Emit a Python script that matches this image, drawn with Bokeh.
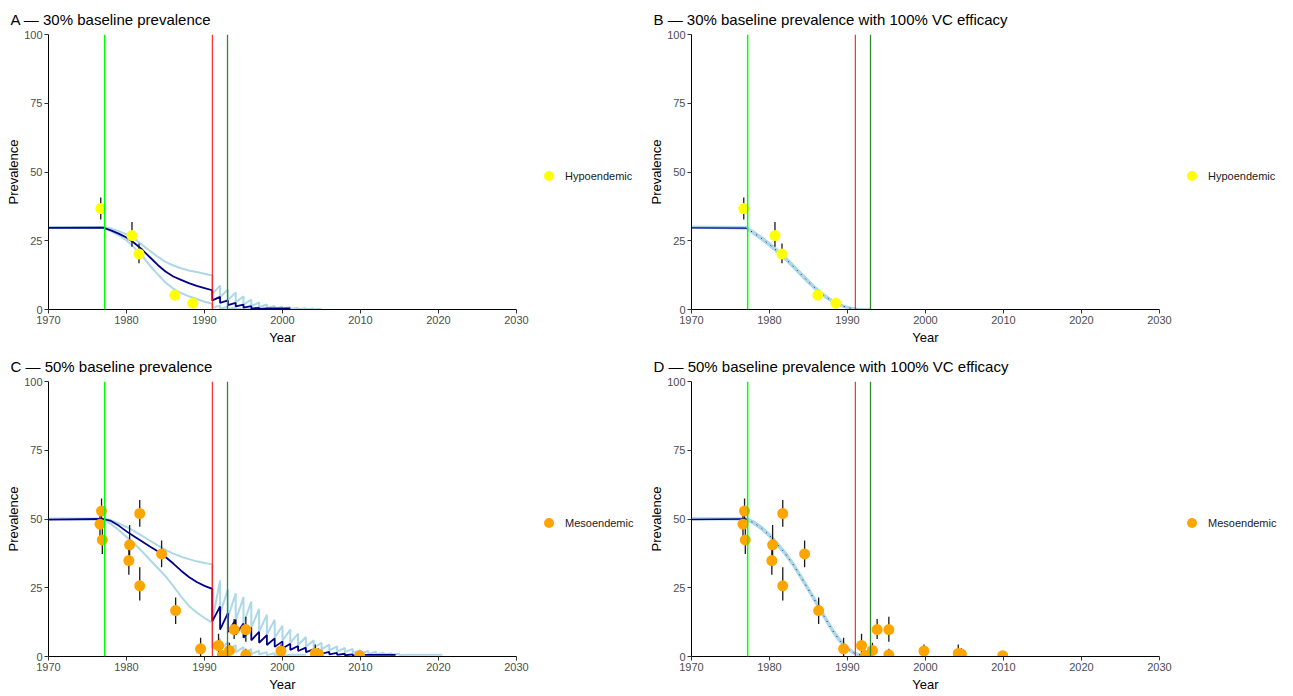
from bokeh.plotting import figure
from bokeh.models import Range1d, Span, Legend, LegendItem, FixedTicker
from bokeh.layouts import column, row
from bokeh.embed import file_html
from bokeh.resources import INLINE

FONT = "Liberation Sans"

# ---------------- data ----------------
smooth_years = [1970, 1977, 1978, 1979, 1980, 1981, 1982, 1983, 1984, 1985,
                1986, 1987, 1988, 1989, 1990, 1991]
mda_start = 1991  # first treatment year of the sawtooth phase

# Panel A: 30% baseline
A_med = [29.7, 29.8, 28.8, 27.6, 26.2, 24.2, 21.8, 19.0, 16.2, 13.8, 12.0, 10.8, 9.6, 8.6, 7.8, 7.0]
A_up = [30.0, 30.0, 29.5, 28.5, 27.3, 25.8, 23.5, 21.3, 19.2, 17.3, 16.0, 15.0, 14.2, 13.6, 13.0, 12.4]
A_lo = [29.8, 29.8, 28.5, 27.0, 25.2, 22.5, 19.5, 16.0, 12.8, 9.8, 7.6, 6.0, 4.8, 3.8, 2.8, 2.1]
A_med_tr = [3.3, 2.4, 1.6, 1.1, 0.7, 0.4, 0.2]
A_med_pk = [4.6, 3.3, 2.4, 1.8, 1.2, 0.6, 0.4]
A_up_tr = [5.7, 4.5, 3.4, 2.6, 1.8, 1.2, 0.8, 0.5, 0.3, 0.2, 0.1, 0.1, 0.1, 0.0]
A_up_pk = [8.7, 7.3, 6.2, 4.8, 3.6, 2.6, 1.8, 1.3, 1.0, 0.8, 0.6, 0.5, 0.4, 0.3]
A_lo_tr = [0.6, 0.3, 0.2, 0.1, 0.0]
A_lo_pk = [1.5, 1.0, 0.7, 0.4, 0.2]
A_tail_end = {"med": 2001.0, "up": 2005.0, "lo": 1997.0}

# Panel C: 50% baseline
C_med = [49.8, 50.0, 49.3, 47.6, 45.5, 43.6, 41.8, 40.0, 38.3, 36.2, 33.8, 31.2, 28.9, 27.1, 25.7, 24.6]
C_up = [50.2, 50.2, 49.6, 48.4, 47.1, 45.6, 43.9, 42.1, 40.4, 38.8, 37.4, 36.3, 35.4, 34.6, 34.0, 33.5]
C_lo = [50.0, 49.8, 48.2, 46.0, 43.5, 41.0, 38.2, 35.2, 32.2, 29.2, 25.6, 21.8, 18.4, 16.0, 14.0, 12.2]
C_med_tr = [12.8, 9.8, 8.9, 7.9, 6.8, 5.9, 5.0, 4.2, 3.5, 2.9, 2.4, 2.0, 1.6, 1.3, 1.0, 0.8, 0.6, 0.45, 0.35]
C_med_pk = [18.2, 15.8, 13.4, 12.0, 10.5, 9.0, 7.8, 6.6, 5.5, 4.6, 3.8, 3.2, 2.6, 2.1, 1.7, 1.3, 1.0, 0.8, 0.6]
C_up_tr = [13.0, 15.5, 14.0, 13.0, 12.0, 10.5, 9.0, 8.0, 6.8, 5.8, 5.0, 4.2, 3.6, 3.0, 2.6, 2.2,
           1.8, 1.6, 1.3, 1.1, 0.9, 0.8, 0.7, 0.6, 0.5]
C_up_pk = [27.7, 24.5, 23.0, 21.6, 20.0, 17.3, 15.2, 13.4, 11.2, 9.8, 8.3, 7.1, 5.9, 5.0, 4.3, 3.7,
           3.1, 2.8, 2.3, 2.0, 1.7, 1.4, 1.2, 1.0, 0.6]
C_lo_tr = [3.0, 2.4, 1.9, 1.5, 1.2, 0.9, 0.7, 0.5, 0.3, 0.2]
C_lo_pk = [6.5, 5.2, 4.2, 3.4, 2.7, 2.1, 1.6, 1.2, 0.9, 0.6]
C_tail_end = {"med": 2014.5, "up": 2020.5, "lo": 2003.0}

# Panels B / D: 100% vector-control efficacy
vc_years = [1970, 1977, 1978, 1979, 1980, 1981, 1982, 1983, 1984, 1985, 1986,
            1987, 1988, 1989, 1990, 1991, 1992, 1993]
B_med = [29.7, 29.6, 27.8, 25.8, 23.6, 21.2, 18.6, 15.8, 12.9, 10.0, 7.4, 5.0, 3.1, 1.6, 0.7, 0.2, 0.0, 0.0]
B_up = [30.1, 29.9, 28.2, 26.2, 24.0, 21.6, 19.0, 16.2, 13.3, 10.4, 7.7, 5.3, 3.3, 1.8, 0.8, 0.3, 0.1, 0.0]
B_lo = [29.9, 29.5, 27.6, 25.5, 23.3, 20.9, 18.3, 15.5, 12.6, 9.7, 7.1, 4.8, 2.9, 1.5, 0.6, 0.1, 0.0, 0.0]
D_med = [49.8, 50.0, 48.6, 46.6, 44.0, 40.8, 37.5, 33.6, 29.0, 24.3, 19.5, 14.6, 9.8, 5.8, 2.9, 1.0, 0.3, 0.0]
D_up = [50.2, 50.2, 49.0, 47.0, 44.4, 41.2, 37.9, 34.0, 29.4, 24.7, 19.9, 15.0, 10.2, 6.2, 3.2, 1.2, 0.4, 0.0]
D_lo = [50.0, 49.8, 48.3, 46.3, 43.7, 40.5, 37.2, 33.3, 28.7, 24.0, 19.2, 14.3, 9.5, 5.5, 2.6, 0.8, 0.2, 0.0]

# Observed data
hypo_year = [1976.7, 1980.7, 1981.6, 1986.2, 1988.5]
hypo_prev = [36.7, 26.9, 20.2, 5.2, 2.3]
hypo_lo = [32.7, 22.8, 16.8, 3.6, 1.2]
hypo_hi = [40.7, 31.8, 24.0, 7.1, 3.5]

meso_year = [1976.6, 1976.8, 1976.9, 1980.3, 1980.4, 1981.7, 1981.7, 1984.5, 1986.3, 1989.5,
             1991.8, 1992.3, 1993.2, 1993.8, 1995.3, 1995.3, 1999.8, 2004.2, 2004.6, 2009.9]
meso_prev = [48.1, 52.9, 42.4, 34.9, 40.6, 52.0, 25.7, 37.3, 16.7, 2.8,
             4.0, 0.4, 2.2, 9.8, 9.8, 0.6, 2.0, 1.1, 0.9, 0.3]
meso_lo = [43.6, 48.4, 37.3, 29.7, 34.0, 47.2, 20.4, 32.5, 11.8, 0.2,
           1.0, 0.0, 0.0, 6.4, 5.4, 0.0, 0.2, 0.1, 0.0, 0.0]
meso_hi = [52.1, 57.5, 47.2, 40.0, 47.8, 56.9, 32.5, 42.2, 21.5, 6.8,
           8.3, 1.5, 5.0, 13.6, 14.5, 2.8, 4.4, 4.4, 3.0, 1.0]

event_years = [1977.2, 1991.0, 1992.95]
event_colors = ["#00FF00", "#FF0000", "#2E8B2E"]
event_widths = [1.5, 1.0, 1.3]

x_ticks = [1970, 1980, 1990, 2000, 2010, 2020, 2030]
y_ticks = [0, 25, 50, 75, 100]

NAVY = "#00008B"
LIGHT = "#ADD8E6"

MAIN_W, LEG_W, PANEL_H = 530, 113, 347


def sawtooth_path(sx, sy, troughs, peaks, tail_end):
    xs, ys = list(sx), list(sy)
    for k, (tr, pk) in enumerate(zip(troughs, peaks)):
        t = mda_start + k
        xs += [t, t + 1]
        ys += [tr, pk]
    xs.append(tail_end)
    ys.append(peaks[-1])
    return xs, ys


def make_panel(title, legend_label, pt_color, pts, lines, vc=False):
    p = figure(width=MAIN_W, height=PANEL_H, x_range=Range1d(1970, 2030), y_range=Range1d(0, 100),
               output_backend="svg", toolbar_location=None,
               min_border_left=48, min_border_right=14, min_border_top=34, min_border_bottom=37,
               title=title)
    p.outline_line_color = None
    p.grid.visible = False
    p.background_fill_color = "white"
    p.border_fill_color = "white"
    p.title.text_font = FONT
    p.title.text_font_size = "15px"
    p.title.text_font_style = "normal"
    p.title.text_color = "black"
    p.title.align = "left"
    p.title.offset = -38
    p.title.standoff = 13

    p.xaxis.ticker = FixedTicker(ticks=x_ticks)
    p.yaxis.ticker = FixedTicker(ticks=y_ticks)
    p.xaxis.axis_label = "Year"
    p.yaxis.axis_label = "Prevalence"
    for ax in (p.xaxis[0], p.yaxis[0]):
        ax.axis_line_color = "black"
        ax.axis_line_width = 1
        ax.major_tick_line_color = "#333333"
        ax.major_tick_out = 4
        ax.major_tick_in = 0
        ax.minor_tick_line_color = None
        ax.major_label_text_font = FONT
        ax.major_label_text_font_size = "11px"
        ax.major_label_text_color = "#4D4D4D"
        ax.axis_label_text_font = FONT
        ax.axis_label_text_font_size = "13px"
        ax.axis_label_text_font_style = "normal"
        ax.axis_label_text_color = "black"
        ax.major_label_standoff = 2
    p.xaxis[0].axis_label_standoff = 3
    p.yaxis[0].axis_label_standoff = 0

    (med_x, med_y), (up_x, up_y), (lo_x, lo_y) = lines
    if vc:
        p.line(up_x, up_y, line_color=LIGHT, line_width=2.6)
        p.line(lo_x, lo_y, line_color=LIGHT, line_width=2.6)
        p.line(med_x[:2], med_y[:2], line_color=NAVY, line_width=1.4)
        p.line(med_x[1:], med_y[1:], line_color=NAVY, line_width=1.0, line_dash="1 5")
    else:
        p.line(up_x, up_y, line_color=LIGHT, line_width=2)
        p.line(lo_x, lo_y, line_color=LIGHT, line_width=2)
        p.line(med_x, med_y, line_color=NAVY, line_width=1.8)

    yr, pv, lo, hi = pts
    p.segment(x0=yr, y0=lo, x1=yr, y1=hi, line_color="#1a1a1a", line_width=1.3)
    p.scatter(yr, pv, size=11, fill_color=pt_color, line_color=None)

    for loc, col, w in zip(event_years, event_colors, event_widths):
        p.add_layout(Span(location=loc, dimension="height", line_color=col, line_width=w))

    # separate narrow figure that only carries the legend, to the right of the plot;
    # its key renderer reuses the first observation, which lies outside this figure's ranges
    lg = figure(width=LEG_W, height=PANEL_H, x_range=Range1d(0, 1), y_range=Range1d(0, 1),
                output_backend="svg", toolbar_location=None,
                x_axis_location=None, y_axis_location=None, min_border=0)
    lg.outline_line_color = None
    lg.grid.visible = False
    lg.background_fill_color = "white"
    lg.border_fill_color = "white"
    key = lg.scatter(x=yr[:1], y=pv[:1], size=11, fill_color=pt_color, line_color=None)
    legend = Legend(items=[LegendItem(label=legend_label, renderers=[key])],
                    location=(6, 121), margin=0, padding=0, spacing=0,
                    glyph_width=25, glyph_height=25, label_standoff=4,
                    label_text_font=FONT, label_text_font_size="11px",
                    label_text_color="#1a1a1a", border_line_color=None,
                    background_fill_alpha=0)
    lg.add_layout(legend)
    return row(p, lg)


pA = make_panel("A \u2014 30% baseline prevalence", "Hypoendemic", "#FFFF00",
                (hypo_year, hypo_prev, hypo_lo, hypo_hi),
                (sawtooth_path(smooth_years, A_med, A_med_tr, A_med_pk, A_tail_end["med"]),
                 sawtooth_path(smooth_years, A_up, A_up_tr, A_up_pk, A_tail_end["up"]),
                 sawtooth_path(smooth_years, A_lo, A_lo_tr, A_lo_pk, A_tail_end["lo"])))
pB = make_panel("B \u2014 30% baseline prevalence with 100% VC efficacy", "Hypoendemic", "#FFFF00",
                (hypo_year, hypo_prev, hypo_lo, hypo_hi),
                ((vc_years, B_med), (vc_years, B_up), (vc_years, B_lo)), vc=True)
pC = make_panel("C \u2014 50% baseline prevalence", "Mesoendemic", "#FFA500",
                (meso_year, meso_prev, meso_lo, meso_hi),
                (sawtooth_path(smooth_years, C_med, C_med_tr, C_med_pk, C_tail_end["med"]),
                 sawtooth_path(smooth_years, C_up, C_up_tr, C_up_pk, C_tail_end["up"]),
                 sawtooth_path(smooth_years, C_lo, C_lo_tr, C_lo_pk, C_tail_end["lo"])))
pD = make_panel("D \u2014 50% baseline prevalence with 100% VC efficacy", "Mesoendemic", "#FFA500",
                (meso_year, meso_prev, meso_lo, meso_hi),
                ((vc_years, D_med), (vc_years, D_up), (vc_years, D_lo)), vc=True)

layout = column(row(pA, pB), row(pC, pD))
open("out.html", "w").write(file_html(layout, INLINE))
